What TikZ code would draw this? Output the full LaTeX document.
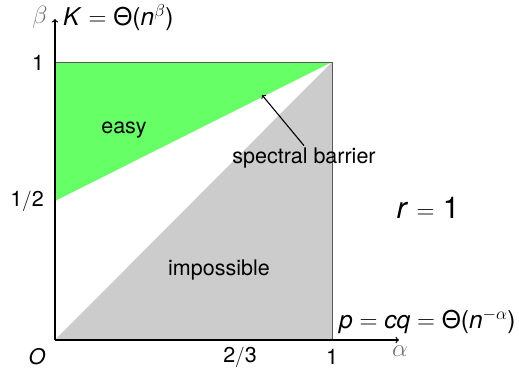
\documentclass[tikz,border=0pt]{standalone}
\usepackage{fontspec}
\setmainfont{TeX Gyre Heros}
\newcommand{\vi}[1]{\textit{#1}}
\begin{document}
\begin{tikzpicture}[x=1pt,y=-1pt,
  lbl/.style={inner sep=0pt, font=\fontsize{21.5}{24}\selectfont},
  mlbl/.style={inner sep=0pt, font=\fontsize{24.5}{27}\selectfont},
  big/.style={inner sep=0pt, font=\fontsize{30}{33}\selectfont},
  axlbl/.style={inner sep=0pt, text=black!55, font=\fontsize{23}{26}\selectfont}]
\useasboundingbox (0,0) rectangle (519,370);
\coordinate (O) at (55,340);
\coordinate (A) at (332,340);
\coordinate (B) at (55,62);
\coordinate (C) at (332,62);
\coordinate (H) at (55,201);
\fill[green!60] (B) -- (C) -- (H) -- cycle;
\fill[black!20] (O) -- (C) -- (A) -- cycle;
\draw[gray!70!black, line width=0.7] (B) -- (C) -- (A);
\coordinate (xend) at (399,340);
\coordinate (yend) at (55,19);
\draw[->, line width=1.3] (O) -- (xend);
\draw[->, line width=1.3] (O) -- (yend);
\node[lbl] (one) at (38,63) {1};
\node[lbl] (half) at (27,201) {1$/$2};
\node[lbl] (o) at (37,357) {\vi{O}};
\node[lbl] (tt) at (240,357) {2$/$3};
\node[lbl] (onex) at (332,357) {1};
\node[axlbl] (al) at (400,351) {$\alpha$};
\node[axlbl] (be) at (40,17) {$\beta$};
\node[mlbl, anchor=west] (K) at (63,18) {\vi{K} $=$ Θ(\vi{n}$^{\beta}$)};
\node[lbl] (easy) at (124,130) {easy};
\node[lbl] (imp) at (219,270) {impossible};
\node[lbl] (sb) at (304,158) {spectral barrier};
\coordinate (sbt) at (262,95);
\draw[->, line width=1.1] (sb.north) ++(0,-2) -- (sbt);
\node[mlbl, anchor=west] (p) at (339,322) {\vi{p} $=$ \vi{cq} $=$ Θ(\vi{n}$^{-\alpha}$)};
\node[big] (r) at (428,208) {\vi{r} $=$ 1};
\end{tikzpicture}
\end{document}
